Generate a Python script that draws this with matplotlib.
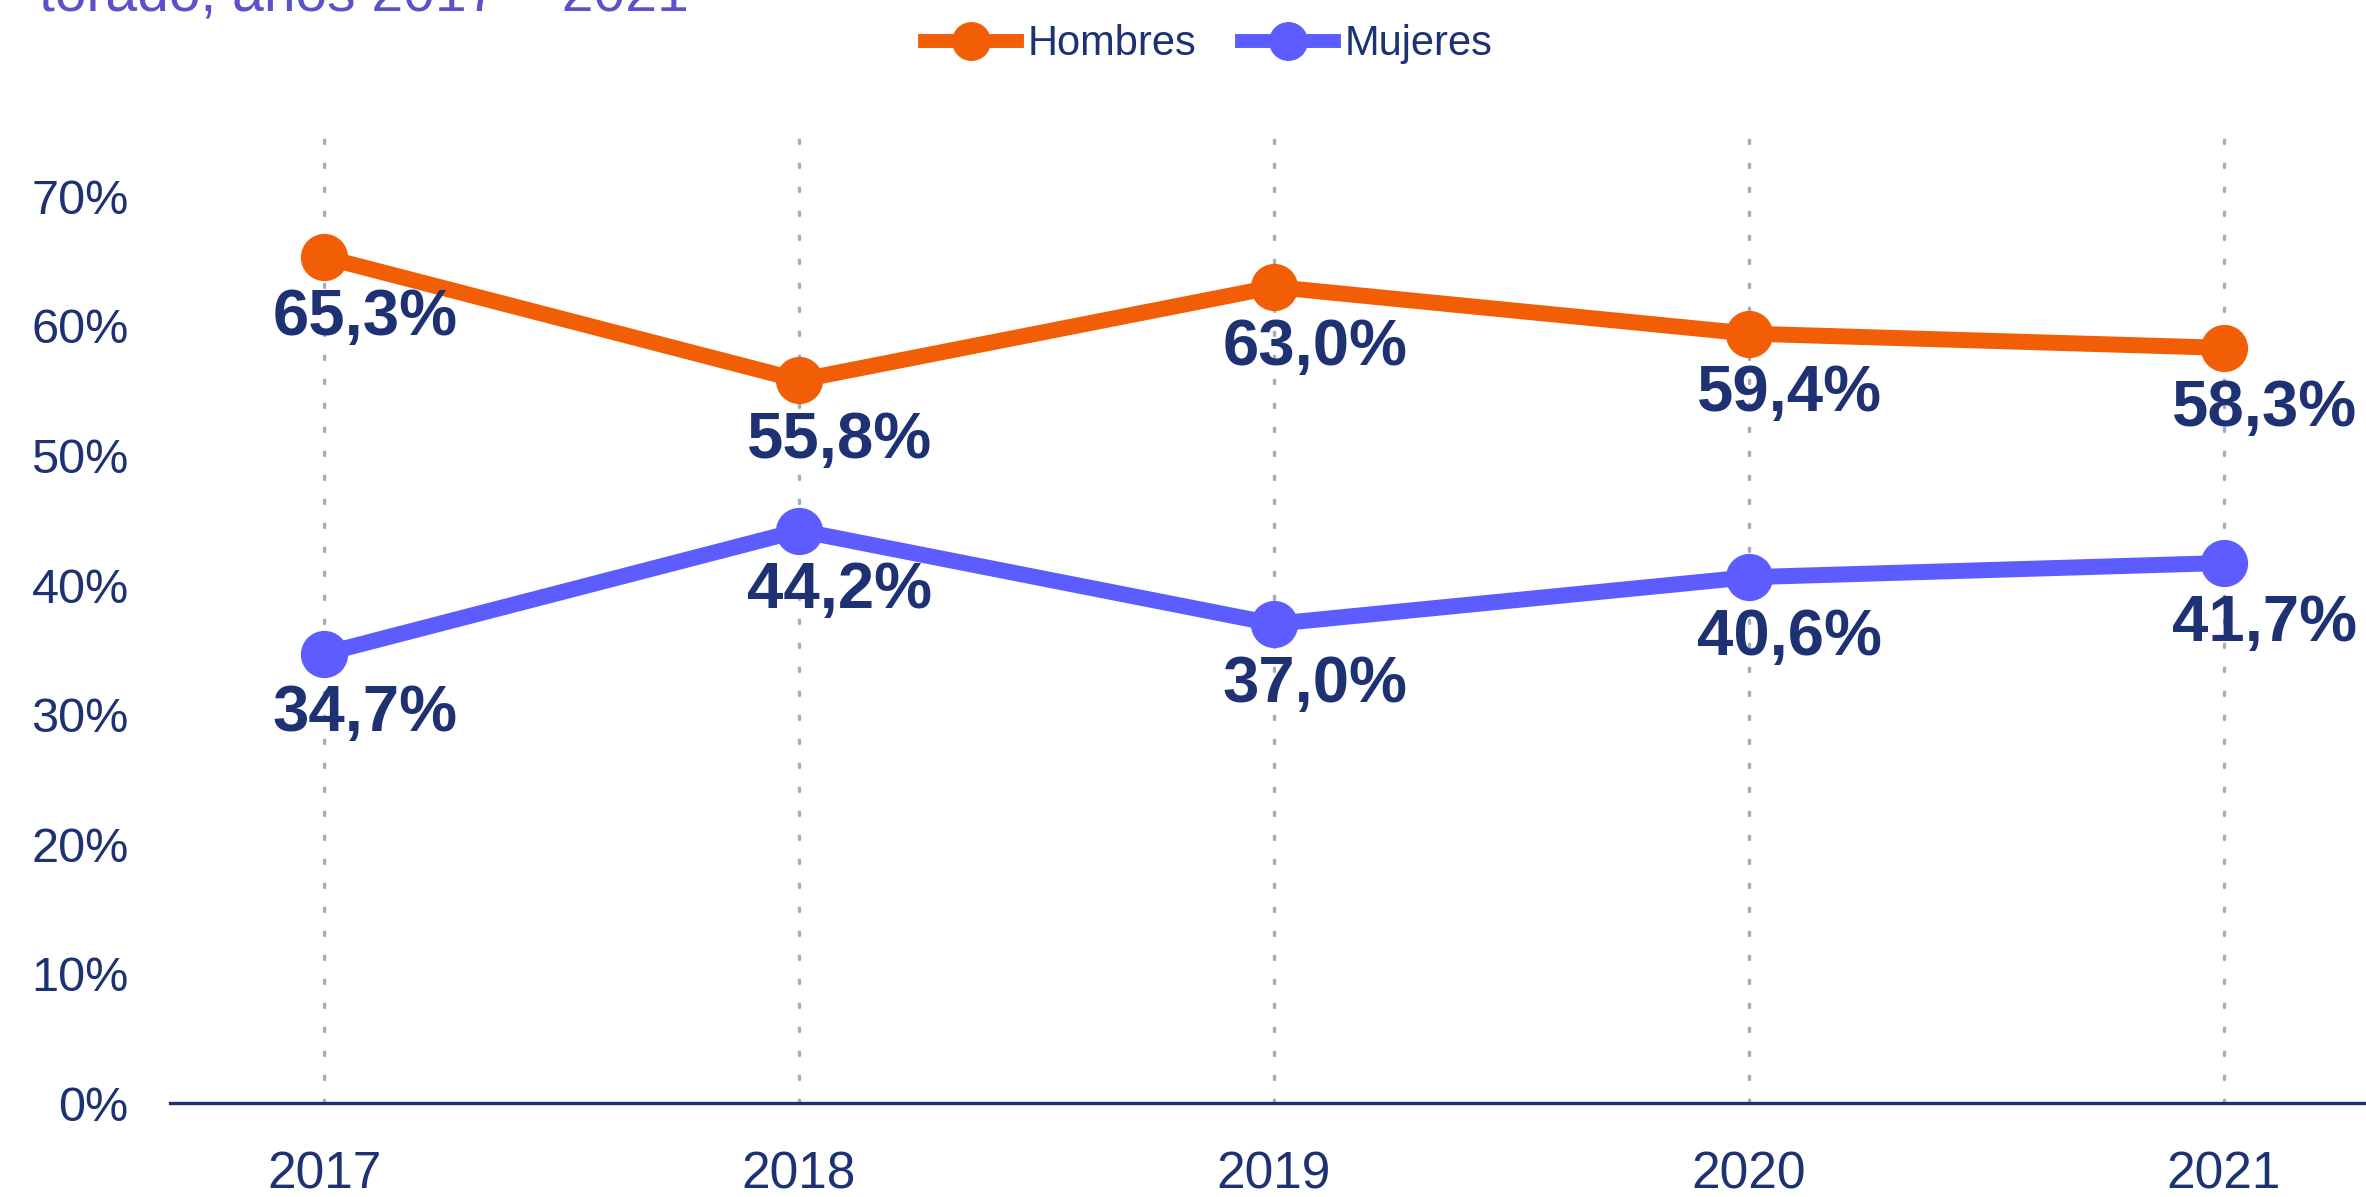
import matplotlib.pyplot as plt
from matplotlib.ticker import FuncFormatter
from matplotlib.lines import Line2D

plt.rcParams['font.family'] = ['Liberation Sans', 'DejaVu Sans']

# data
years = [2017, 2018, 2019, 2020, 2021]
hombres = [65.3, 55.8, 63.0, 59.4, 58.3]
mujeres = [34.7, 44.2, 37.0, 40.6, 41.7]
series_names = ["Hombres", "Mujeres"]

# colours
c_hom = "#f25e05"
c_muj = "#5c5cff"
navy = "#1d3173"
title_col = "#5a52c8"

fig = plt.figure(figsize=(23.66, 11.97), dpi=100)
ax = fig.add_axes([0.072, 0.0782, 0.928, 0.812])

# dotted vertical guides
for yr in years:
    ax.axvline(yr, color="#a3aac2", lw=2.4, ls=(0, (1, 6.2)), dash_capstyle="round", zorder=1)

for vals, col in [(hombres, c_hom), (mujeres, c_muj)]:
    ax.plot(years, vals, color=col, lw=11.5, marker="o", markersize=33, zorder=3)
    # value labels under each point
    for x, v in zip(years, vals):
        ax.annotate(f"{v:.1f}%".replace(".", ","), (x, v), xytext=(29.5, -56),
                    textcoords="offset points", ha="center", va="baseline",
                    fontsize=47, fontweight="bold", color=navy, zorder=4)

ax.set_xlim(2016.676, 2021.30)
ax.set_ylim(0, 75)
ax.set_yticks(range(0, 80, 10))
ax.yaxis.set_major_formatter(FuncFormatter(lambda v, p: f"{v:.0f}%"))
ax.set_xticks(years)
ax.tick_params(axis="both", length=0, labelsize=35, labelcolor=navy)
ax.tick_params(axis="x", labelsize=37, pad=34)
ax.tick_params(axis="y", pad=30)

for s in ["top", "right", "left"]:
    ax.spines[s].set_visible(False)
ax.spines["bottom"].set_color(navy)
ax.spines["bottom"].set_linewidth(2.4)

# legend
handles = [Line2D([], [], color=c_hom, lw=10, marker="o", markersize=27),
           Line2D([], [], color=c_muj, lw=10, marker="o", markersize=27)]
fig.legend(handles, series_names, loc="center", bbox_to_anchor=(0.511, 0.963), ncol=2,
           frameon=False, fontsize=30, labelcolor=navy, handlelength=2.2,
           handletextpad=0.26, columnspacing=1.1)

# title, cut off at the top of the picture
fig.text(0.0165, 1 - 10 / 1197, "torado, años 2017 – 2021", fontsize=41, color=title_col,
         ha="left", va="baseline")

fig.savefig("out.png", dpi=100)
